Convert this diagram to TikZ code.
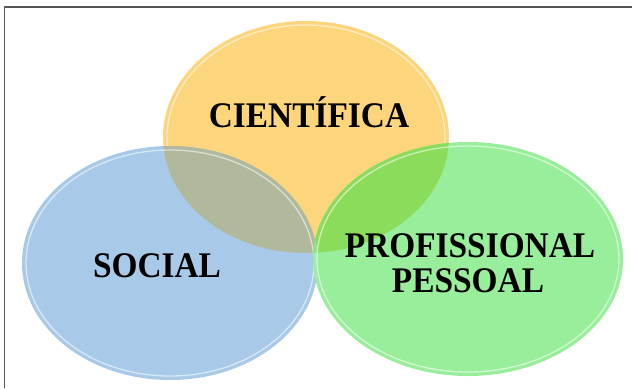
\documentclass[tikz,border=0pt]{standalone}
\usepackage{fontspec}
\usepackage{graphicx}
\setmainfont{Liberation Serif}
\definecolor{corange}{HTML}{FDD57C}
\definecolor{cblue}{HTML}{A8CAE8}
\definecolor{cgreen}{HTML}{98EE9A}
\definecolor{cob}{HTML}{B0B99C}
\definecolor{cog}{HTML}{8CDC5C}
\definecolor{cbg}{HTML}{9CEEA8}
\definecolor{cobg}{HTML}{94E08A}
\definecolor{frame}{HTML}{555555}
\newcommand{\tall}[1]{\scalebox{1}[1.08]{#1}}
\tikzset{
  lbl/.style={font=\fontsize{33.5}{35}\selectfont\bfseries, text=black, anchor=base, inner sep=0pt, align=center},
  rim/.style={draw=white, draw opacity=0.55, line width=1.3bp},
}
\def\Oell{(306,137) ellipse [x radius=143bp, y radius=116bp]}
\def\Bell{(170,263) ellipse [x radius=148bp, y radius=117bp]}
\def\Gell{(468,259) ellipse [x radius=155bp, y radius=117bp]}
\begin{document}
\begin{tikzpicture}[x=1bp,y=-1bp]
\useasboundingbox (0,0) rectangle (632,388);
\fill[white] (0,0) rectangle (632,388);
% orange
\fill[corange] \Oell;
\path[rim] (306,137) ellipse [x radius=139bp, y radius=112bp];
% blue
\fill[cblue] \Bell;
\begin{scope}
  \clip \Oell;
  \fill[cob] \Bell;
\end{scope}
\path[rim] (170,263) ellipse [x radius=144bp, y radius=113bp];
% green
\fill[cgreen] \Gell;
\begin{scope}
  \clip \Oell;
  \fill[cog] \Gell;
\end{scope}
\begin{scope}
  \clip \Bell;
  \fill[cbg] \Gell;
\end{scope}
\begin{scope}
  \clip \Oell;
  \clip \Bell;
  \fill[cobg] \Gell;
\end{scope}
\path[rim] (468,259) ellipse [x radius=151bp, y radius=113bp];
% frame
\draw[frame, line width=1.5bp] (4.5,388) -- (4.5,7) -- (632,7);
% labels
\node[lbl] (cient) at (309,127) {\tall{CIENTÍFICA}};
\node[lbl] (social) at (157,277) {\tall{SOCIAL}};
\node[lbl] (prof) at (470,257) {\tall{PROFISSIONAL}};
\node[lbl] (pess) at (468,292) {\tall{PESSOAL}};
\end{tikzpicture}
\end{document}
